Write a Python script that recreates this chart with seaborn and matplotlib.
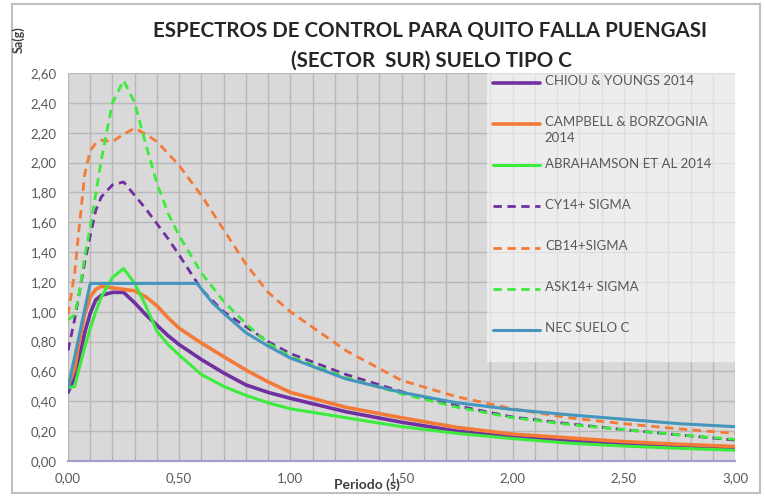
import numpy as np
import pandas as pd
import matplotlib
matplotlib.use("Agg")
import matplotlib.pyplot as plt
from matplotlib.ticker import MultipleLocator, FuncFormatter
from matplotlib.lines import Line2D
from matplotlib.patches import Rectangle
import seaborn as sns

# periodos (s) usados por los modelos GMPE
periodos = [0.0, 0.03, 0.05, 0.075, 0.1, 0.125, 0.15, 0.2, 0.25, 0.3, 0.35, 0.4, 0.45, 0.5,
            0.6, 0.7, 0.8, 0.9, 1.0, 1.25, 1.5, 1.75, 2.0, 2.25, 2.5, 2.75, 3.0]

cy14 = [0.46, 0.56, 0.69, 0.86, 0.99, 1.08, 1.11, 1.13, 1.13, 1.06, 0.98, 0.91, 0.84, 0.78,
        0.68, 0.59, 0.51, 0.46, 0.42, 0.33, 0.26, 0.20, 0.16, 0.135, 0.118, 0.10, 0.088]
cb14 = [0.50, 0.62, 0.80, 0.98, 1.10, 1.15, 1.17, 1.16, 1.15, 1.14, 1.10, 1.04, 0.96, 0.89,
        0.79, 0.70, 0.61, 0.53, 0.46, 0.36, 0.29, 0.225, 0.18, 0.155, 0.13, 0.112, 0.097]
ask14 = [0.49, 0.50, 0.62, 0.76, 0.89, 1.00, 1.10, 1.23, 1.29, 1.19, 1.04, 0.87, 0.78, 0.71,
         0.58, 0.50, 0.44, 0.39, 0.35, 0.29, 0.23, 0.185, 0.15, 0.12, 0.10, 0.085, 0.072]
cy14_sigma = [0.74, 0.95, 1.12, 1.33, 1.51, 1.68, 1.77, 1.85, 1.87, 1.78, 1.69, 1.59, 1.49, 1.38,
              1.15, 1.00, 0.90, 0.80, 0.72, 0.58, 0.465, 0.37, 0.295, 0.25, 0.21, 0.175, 0.14]
cb14_sigma = [0.98, 1.26, 1.56, 1.92, 2.08, 2.13, 2.15, 2.14, 2.19, 2.23, 2.19, 2.14, 2.06, 1.98,
              1.78, 1.55, 1.32, 1.13, 1.00, 0.74, 0.54, 0.43, 0.35, 0.29, 0.25, 0.215, 0.185]
ask14_sigma = [0.945, 0.98, 1.12, 1.37, 1.57, 1.79, 2.02, 2.40, 2.55, 2.40, 2.12, 1.86, 1.66, 1.51,
               1.26, 1.07, 0.92, 0.79, 0.70, 0.56, 0.45, 0.36, 0.29, 0.245, 0.21, 0.175, 0.145]

# espectro NEC suelo C
periodos_nec = [0.0, 0.1, 0.58, 0.65, 0.7, 0.8, 0.9, 1.0, 1.25, 1.5, 1.75, 2.0, 2.25, 2.5, 2.75, 3.0]
nec_c = [0.49, 1.19, 1.19, 1.06, 0.99, 0.86, 0.77, 0.69, 0.55, 0.46, 0.39, 0.345, 0.31, 0.28, 0.25, 0.23]

etiquetas = ["CHIOU & YOUNGS 2014", "CAMPBELL & BORZOGNIA\n2014", "ABRAHAMSON ET AL 2014",
             "CY14+ SIGMA", "CB14+SIGMA", "ASK14+ SIGMA", "NEC SUELO C"]

sns.set_style("whitegrid")
plt.rcParams['font.family'] = ['Lato', 'DejaVu Sans']

purple = '#7030a0'
orange = '#f47a38'
green = '#3cec3c'
teal = '#4596bd'

series = [
    (periodos, cy14, purple, '-', 2.6),
    (periodos, cb14, orange, '-', 2.6),
    (periodos, ask14, green, '-', 2.2),
    (periodos, cy14_sigma, purple, (0, (3, 2)), 2.0),
    (periodos, cb14_sigma, orange, (0, (3, 2)), 2.0),
    (periodos, ask14_sigma, green, (0, (3, 2)), 2.0),
    (periodos_nec, nec_c, teal, '-', 2.2),
]

fig = plt.figure(figsize=(7.65, 4.96), dpi=100)
ax = fig.add_axes([68 / 765, 1 - 461 / 496, (735 - 68) / 765, (461 - 73) / 496])
ax.set_facecolor('#d9d9d9')

for x, y, c, ls, lw in series:
    df = pd.DataFrame({'T': x, 'Sa': y})
    sns.lineplot(data=df, x='T', y='Sa', ax=ax, color=c, linestyle=ls, linewidth=lw,
                 estimator=None, zorder=2)

ax.set_xlim(0, 3.0)
ax.set_ylim(0, 2.6)
ax.xaxis.set_major_locator(MultipleLocator(0.5))
ax.xaxis.set_minor_locator(MultipleLocator(0.1))
ax.yaxis.set_major_locator(MultipleLocator(0.2))
coma = FuncFormatter(lambda v, p: f"{v:.2f}".replace('.', ','))
ax.xaxis.set_major_formatter(coma)
ax.yaxis.set_major_formatter(coma)
ax.grid(True, which='major', color='#b8b8b8', linewidth=1.0, zorder=0)
ax.grid(True, which='minor', axis='x', color='#b8b8b8', linewidth=1.0, zorder=0)
ax.set_axisbelow(True)
ax.tick_params(axis='both', which='major', labelsize=9.5, labelcolor='#595959',
               length=5, color='#bfbfbf', direction='out', pad=3)
ax.tick_params(axis='x', which='minor', length=3, color='#a99bd0', direction='in', bottom=True)
for s in ['top', 'right', 'left']:
    ax.spines[s].set_visible(False)
ax.spines['bottom'].set_color('#a99bd0')
ax.spines['bottom'].set_linewidth(1.6)

ax.set_xlabel('Periodo (s)', fontsize=10, fontweight='bold', color='#404040')
ax.xaxis.set_label_coords((367 - 68) / 667, -0.045)
ax.set_ylabel('')
fig.text(18 / 765, 1 - 40 / 496, 'Sa(g)', rotation=90, fontsize=9, fontweight='bold',
         color='#404040', ha='center', va='center')

fig.text(430 / 765, 1 - 31 / 496, 'ESPECTROS DE CONTROL PARA QUITO FALLA PUENGASI',
         fontsize=14.8, fontweight='bold', color='#262626', ha='center', va='center')
fig.text(431 / 765, 1 - 61 / 496, '(SECTOR  SUR) SUELO TIPO C',
         fontsize=14.8, fontweight='bold', color='#262626', ha='center', va='center')

# leyenda a la derecha
ax.add_patch(Rectangle((0.628, 0.255), 0.372, 0.745, transform=ax.transAxes,
                       facecolor='white', alpha=0.55, edgecolor='none', zorder=3))
for i, (lab, (x, y, c, ls, lw)) in enumerate(zip(etiquetas, series)):
    yy = 0.974 - i * 0.106
    ax.add_line(Line2D([0.637, 0.708], [yy, yy], transform=ax.transAxes, color=c,
                       linestyle=ls, linewidth=lw, zorder=4))
    ax.text(0.715, yy + 0.02, lab, transform=ax.transAxes, fontsize=9.5, color='#595959',
            ha='left', va='top', linespacing=1.35, zorder=4)

fig.patches.append(Rectangle((12 / 765, 3 / 496), 748 / 765, 489 / 496, transform=fig.transFigure,
                             fill=False, edgecolor='#bfbfbf', linewidth=1.5))

fig.savefig('out.png', dpi=100)
